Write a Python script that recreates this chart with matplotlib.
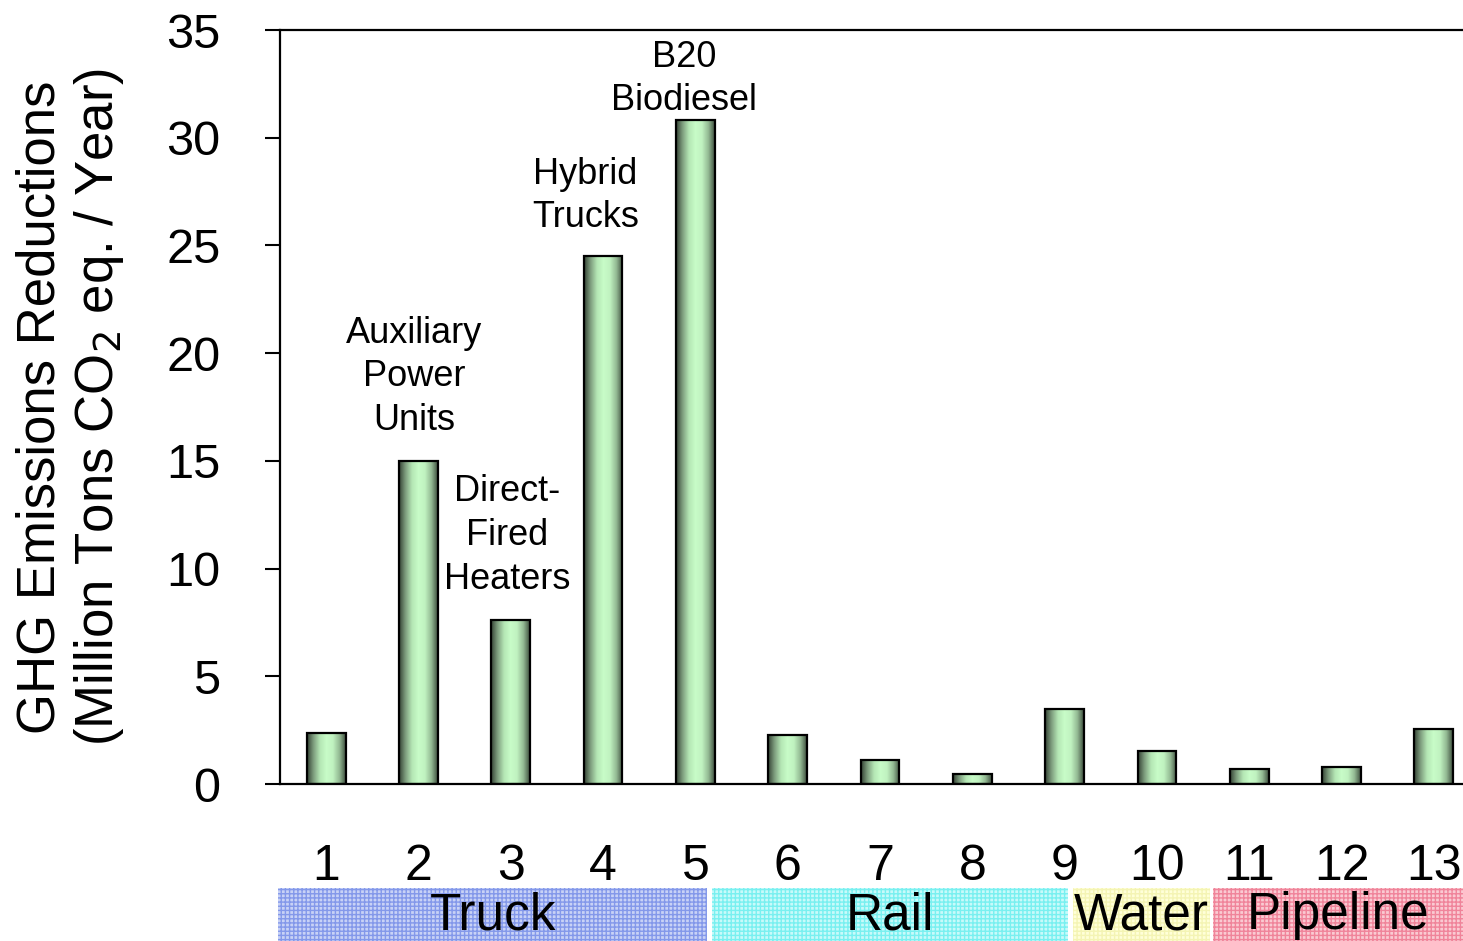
import numpy as np
import matplotlib
matplotlib.use("Agg")
import matplotlib.pyplot as plt
from matplotlib.colors import LinearSegmentedColormap
from matplotlib.patches import Rectangle
import matplotlib.transforms as mtransforms

plt.rcParams['font.family'] = ['Liberation Sans', 'DejaVu Sans']
plt.rcParams['hatch.linewidth'] = 1.0

# GHG reductions by strategy (million tons CO2 eq. / year)
strategies = [str(i) for i in range(1, 14)]
reductions = [2.37, 15.0, 7.6, 24.5, 30.8, 2.27, 1.11, 0.46, 3.48, 1.53, 0.7, 0.79, 2.55]

# text over the largest truck bars
callout_idx = [1, 2, 3, 4]
callout_text = ['Auxiliary\nPower\nUnits', 'Direct-\nFired\nHeaters',
                'Hybrid\nTrucks', 'B20\nBiodiesel']

# transport modes along the bottom
modes = ['Truck', 'Rail', 'Water', 'Pipeline']
mode_spans = [(-0.52, 4.13), (4.18, 8.04), (8.09, 9.58), (9.61, 12.32)]
mode_face = ['#c8d2f6', '#c8fafa', '#ffffd8', '#facad2']
mode_hatch = ['#8398ea', '#78f0f0', '#f4f4b4', '#f0849a']

fig = plt.figure(figsize=(14.63, 9.41), dpi=100)
ax = fig.add_axes([280 / 1463, 157 / 941, 1200 / 1463, 754 / 941])

x = np.arange(len(reductions))
bars = ax.bar(x, reductions, width=0.42, facecolor='none',
              edgecolor='black', linewidth=1.6, zorder=3)

# cylinder-like shading inside each bar
shade = LinearSegmentedColormap.from_list(
    'cyl', ['#334133', '#7e9d7e', '#b4e6b4', '#c8fcc8', '#c0f2c0', '#93b993', '#3e4e3e'])
grad = np.linspace(0, 1, 256).reshape(1, -1)
for b in bars:
    ax.imshow(grad, cmap=shade, aspect='auto', interpolation='bilinear',
              extent=(b.get_x(), b.get_x() + b.get_width(), 0, b.get_height()),
              zorder=2)

ax.set_xlim(-0.5, 12.5)
ax.set_ylim(0, 35)
ax.set_yticks(np.arange(0, 36, 5))
ax.set_xticks(x)
ax.set_xticklabels(strategies)
ax.tick_params(axis='y', direction='out', length=11, width=1.5, pad=32, labelsize=35)
ax.tick_params(axis='x', length=0, pad=43, labelsize=36)
ax.spines['right'].set_visible(False)
for s in ['left', 'top', 'bottom']:
    ax.spines[s].set_linewidth(1.6)

ax.set_ylabel('GHG Emissions Reductions\n(Million Tons CO$_2$ eq. / Year)',
              fontsize=38, linespacing=1.15, va='center')
ax.yaxis.set_label_coords(-0.1745, 0.5)

# labels above bars
offsets = [3.9, 3.93, 2.8, 1.93]
shifts = [-0.05, -0.04, -0.19, -0.12]
for i, txt, dy, dx in zip(callout_idx, callout_text, offsets, shifts):
    ax.text(i + dx, reductions[i] + dy, txt, ha='center', va='center',
            fontsize=26, linespacing=1.32)

# mode bands below the axis
trans = mtransforms.blended_transform_factory(ax.transData, fig.transFigure)
for name, (x0, x1), fc, hc in zip(modes, mode_spans, mode_face, mode_hatch):
    r = Rectangle((x0, 0), x1 - x0, 53 / 941, transform=trans, facecolor=fc,
                  edgecolor=hc, linewidth=0, hatch='++++', clip_on=False)
    ax.add_patch(r)
    ax.text((x0 + x1) / 2, 25 / 941, name, transform=trans, ha='center',
            va='center', fontsize=37, clip_on=False)

fig.savefig('out.png', dpi=100)
